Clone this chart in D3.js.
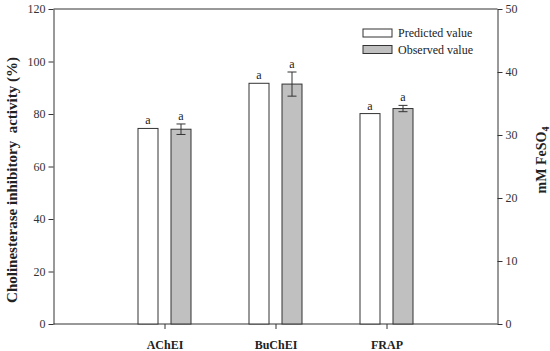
<!DOCTYPE html>
<html>
<head>
<meta charset="utf-8"/>
<script src="https://d3js.org/d3.v7.min.js"></script>
<style>
    body { margin: 0; background: #fff; }
    svg, svg text { font-family: "Liberation Serif", "DejaVu Serif", "Times New Roman", serif; }
    text { fill: #222; }
    .axis path, .axis line { stroke: #333; }
    .axis text { font-size: 12px; fill: #333; font-family: "Liberation Serif", "DejaVu Serif", serif; }
    .bar { stroke: #333; stroke-width: 1; }
</style>
</head>
<body>
<div id="chart"></div>
<script>
// data
var categories = ["AChEI", "BuChEI", "FRAP"];
var series = ["Predicted value", "Observed value"];
// AChEI, BuChEI in % (left axis); FRAP in mM FeSO4 (right axis)
var predicted = [74.5, 91.7, 33.4];
var observed = [74.2, 91.4, 34.2];
var observedErr = [2.0, 4.6, 0.5];
var letters = ["a", "a", "a"];
var leftTicks = [0, 20, 40, 60, 80, 100, 120];
var rightTicks = [0, 10, 20, 30, 40, 50];

var width = 550, height = 351;
var margin = {top: 9, left: 53.5, right: 497.5, bottom: 324};
var fills = {"Predicted value": "#ffffff", "Observed value": "#c0c0c0"};
var serif = "'Liberation Serif', 'DejaVu Serif', serif";

var svg = d3.select("#chart").append("svg")
    .attr("width", width)
    .attr("height", height)
    .attr("font-family", serif);

var yLeft = d3.scaleLinear().domain([0, 120]).range([margin.bottom, margin.top]);
var yRight = d3.scaleLinear().domain([0, 50]).range([margin.bottom, margin.top]);

var x = d3.scalePoint().domain(categories)
    .range([margin.left, margin.right])
    .padding(1);
var x1 = d3.scaleBand().domain(series)
    .range([-26.5, 26.5])
    .paddingInner(13 / 33);

function yFor(cat) { return cat === "FRAP" ? yRight : yLeft; }

// build rows
var rows = [];
categories.forEach(function(c, i) {
    rows.push({cat: c, s: series[0], v: predicted[i], err: 0, letter: letters[i]});
    rows.push({cat: c, s: series[1], v: observed[i], err: observedErr[i], letter: letters[i]});
});

// top frame line
svg.append("line")
    .attr("x1", margin.left).attr("x2", margin.right)
    .attr("y1", margin.top).attr("y2", margin.top)
    .attr("stroke", "#333");

// axes
function styleAxis(g) {
    g.attr("font-family", serif).attr("font-size", 12);
}
svg.append("g")
    .attr("class", "axis")
    .attr("transform", "translate(" + margin.left + ",0)")
    .call(d3.axisLeft(yLeft).tickValues(leftTicks).tickSize(5).tickSizeOuter(0))
    .call(styleAxis);

svg.append("g")
    .attr("class", "axis")
    .attr("transform", "translate(" + margin.right + ",0)")
    .call(d3.axisRight(yRight).tickValues(rightTicks).tickSize(5).tickSizeOuter(0))
    .call(styleAxis);

var xAxis = svg.append("g")
    .attr("class", "axis")
    .attr("transform", "translate(0," + margin.bottom + ")")
    .call(d3.axisBottom(x).tickSize(5).tickSizeOuter(0))
    .call(styleAxis);
xAxis.select(".domain").attr("d", "M" + margin.left + ",0H" + margin.right);
xAxis.selectAll("text")
    .attr("dy", "1.45em")
    .style("font-weight", "bold")
    .style("font-size", "12px")
    .style("fill", "#222");

// bars
svg.selectAll(".bar")
    .data(rows)
    .enter().append("rect")
    .attr("class", "bar")
    .attr("x", function(d) { return x(d.cat) + x1(d.s); })
    .attr("width", x1.bandwidth())
    .attr("y", function(d) { return yFor(d.cat)(d.v); })
    .attr("height", function(d) { return margin.bottom - yFor(d.cat)(d.v); })
    .attr("fill", function(d) { return fills[d.s]; });

// error bars
var errRows = rows.filter(function(d) { return d.err > 0; });
var eb = svg.selectAll(".err").data(errRows).enter().append("g")
    .attr("class", "err")
    .attr("stroke", "#333")
    .attr("transform", function(d) { return "translate(" + (x(d.cat) + x1(d.s) + x1.bandwidth() / 2) + ",0)"; });
eb.append("line")
    .attr("y1", function(d) { return yFor(d.cat)(d.v + d.err); })
    .attr("y2", function(d) { return yFor(d.cat)(d.v - d.err); });
eb.append("line")
    .attr("x1", -4.5).attr("x2", 4.5)
    .attr("y1", function(d) { return yFor(d.cat)(d.v + d.err); })
    .attr("y2", function(d) { return yFor(d.cat)(d.v + d.err); });
eb.append("line")
    .attr("x1", -4.5).attr("x2", 4.5)
    .attr("y1", function(d) { return yFor(d.cat)(d.v - d.err); })
    .attr("y2", function(d) { return yFor(d.cat)(d.v - d.err); });

// significance letters
svg.selectAll(".letter")
    .data(rows)
    .enter().append("text")
    .attr("class", "letter")
    .attr("x", function(d) { return x(d.cat) + x1(d.s) + x1.bandwidth() / 2; })
    .attr("y", function(d) { return yFor(d.cat)(d.v + d.err) - 4; })
    .attr("text-anchor", "middle")
    .style("font-size", "12px")
    .text(function(d) { return d.letter; });

// axis titles
svg.append("text")
    .attr("transform", "translate(17,180) rotate(-90)")
    .attr("text-anchor", "middle")
    .attr("xml:space", "preserve")
    .style("font-size", "15px")
    .style("font-weight", "bold")
    .text("Cholinesterase inhibitory  activity (%)");

var rt = svg.append("text")
    .attr("transform", "translate(546,160) rotate(-90)")
    .attr("text-anchor", "middle")
    .style("font-size", "14px")
    .style("font-weight", "bold");
rt.append("tspan").text("mM FeSO");
rt.append("tspan").attr("dy", 3).style("font-size", "10px").text("4");

// legend
var legend = svg.selectAll(".legend")
    .data(series)
    .enter().append("g")
    .attr("class", "legend")
    .attr("transform", function(d, i) { return "translate(363," + (29 + i * 16.5) + ")"; });
legend.append("rect")
    .attr("width", 29).attr("height", 8)
    .attr("fill", function(d) { return fills[d]; })
    .attr("stroke", "#333");
legend.append("text")
    .attr("x", 35).attr("y", 8)
    .style("font-size", "12px")
    .text(function(d) { return d; });
</script>
</body>
</html>
